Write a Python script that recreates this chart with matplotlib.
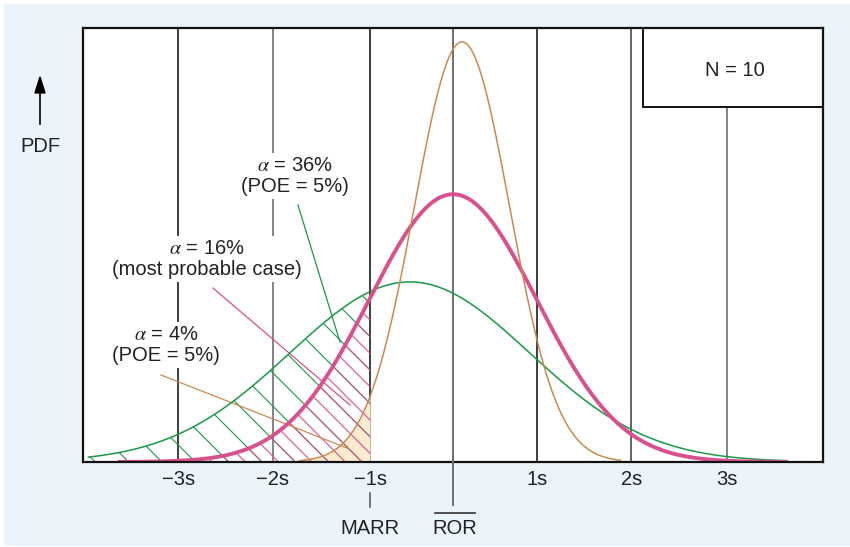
import numpy as np
import matplotlib
matplotlib.use("Agg")
import matplotlib.pyplot as plt
from matplotlib.patches import Rectangle

#=================================
# Data
#=================================
# x axis in "s" units, ROR at 0
s_labels = ["\u22123s", "\u22122s", "\u22121s", "1s", "2s", "3s"]
s_pos = [-3.05, -2.0, -0.92, 0.93, 1.98, 3.04]
s_colors = ["#1e1e1e", "#6e6e6e", "#1e1e1e", "#1e1e1e", "#4a4a4a", "#6e6e6e"]
ror_pos = 0.0
marr_pos = -0.92

# three PDFs: mean, sd, peak height (fraction of axis), drawn range
curve_names = ["alpha 36%", "alpha 16%", "alpha 4%"]
curve_mean = [-0.48, 0.0, 0.10]
curve_sd = [1.33, 0.93, 0.53]
curve_peak = [0.415, 0.617, 0.968]
curve_from = [-4.05, -3.70, -1.70]
curve_to = [3.70, 3.70, 1.86]
curve_colors = ["#1a9a45", "#d9508e", "#c98a50"]
curve_lw = [1.1, 2.8, 1.1]

labels = ["$\\alpha$ = 36%\n(POE = 5%)",
          "$\\alpha$ = 16%\n(most probable case)",
          "$\\alpha$ = 4%\n(POE = 5%)"]

W, H = 850, 547
FS = 14.5
plt.rcParams["font.family"] = ["Liberation Sans", "DejaVu Sans"]
plt.rcParams["mathtext.fontset"] = "stix"
plt.rcParams["hatch.linewidth"] = 0.8

fig = plt.figure(figsize=(W / 100, H / 100), dpi=100, facecolor="white")

# light blue panel behind everything
fig.patches.append(Rectangle((4 / W, 1 / H), 1 - 4 / W, 1 - 5 / H,
                             transform=fig.transFigure, facecolor="#ebf3fb",
                             edgecolor="none", zorder=-10))

def fx(px):
    return px / W

def fy(py):
    return 1 - py / H

ax = fig.add_axes([83 / W, (H - 462) / H, 740 / W, 434 / H])
ax.set_xlim(-4.11, 4.11)
ax.set_ylim(0, 1)
ax.set_facecolor("white")

def ax_pt(px, py):
    # pixel position -> data coords of the axes
    return (px - 453) / 90.0, (462 - py) / 434.0

def pdf(x, i):
    return curve_peak[i] * np.exp(-0.5 * ((x - curve_mean[i]) / curve_sd[i]) ** 2)

# vertical lines
for p, c in zip(s_pos, s_colors):
    top = 1.0
    if p > 2.5:
        top = (462 - 107) / 434.0
    ax.plot([p, p], [0, top], color=c, lw=1.2, zorder=1)
ax.plot([ror_pos, ror_pos], [0, 1], color="#6e6e6e", lw=1.4, zorder=1)

# orange shaded tail
xs = np.linspace(curve_from[2], marr_pos, 200)
ax.fill_between(xs, 0, pdf(xs, 2), color="#fdebd0", lw=0, zorder=2)

# hatched tails
xs = np.linspace(curve_from[0], marr_pos, 300)
ax.fill_between(xs, 0, pdf(xs, 0), facecolor="none", edgecolor=curve_colors[0],
                hatch="\\", lw=0, zorder=3)
xs = np.linspace(curve_from[1], marr_pos, 300)
ax.fill_between(xs, 0, pdf(xs, 1), facecolor="none", edgecolor=curve_colors[1],
                hatch="\\\\", lw=0, zorder=3)

# curves
for i in range(3):
    xs = np.linspace(curve_from[i], curve_to[i], 400)
    ax.plot(xs, pdf(xs, i), color=curve_colors[i], lw=curve_lw[i], zorder=5)

# labels with leader lines
label_xy = [(295, 176), (207, 259), (166, 345)]
leader = [((298, 205), (340, 342)), ((213, 288), (350, 405)), ((161, 375), (347, 448))]
for i in range(3):
    x, y = ax_pt(*label_xy[i])
    ax.text(x, y, labels[i], ha="center", va="center", fontsize=FS,
            linespacing=1.15, color="#222222", zorder=6,
            bbox=dict(facecolor="white", edgecolor="none", pad=2))
    (a, b), (c, d) = leader[i]
    x0, y0 = ax_pt(a, b)
    x1, y1 = ax_pt(c, d)
    ax.plot([x0, x1], [y0, y1], color=curve_colors[i], lw=0.9, zorder=4)

# N = 10 box
ax.add_patch(Rectangle(((643 - 83) / 740, (462 - 107) / 434), (823 - 643) / 740,
                       (107 - 28) / 434, transform=ax.transAxes, facecolor="white",
                       edgecolor="#111111", lw=1.4, zorder=7))
ax.text((735 - 83) / 740, (462 - 70) / 434, "N = 10", transform=ax.transAxes,
        ha="center", va="center", fontsize=FS, color="#222222", zorder=8)

# axes
for sp in ax.spines.values():
    sp.set_linewidth(1.6)
    sp.set_color("#111111")
    sp.set_zorder(9)
ax.set_yticks([])
ax.set_xticks(s_pos, s_labels)
ax.tick_params(axis="x", length=0, pad=6, labelsize=FS, colors="#222222")

# MARR and ROR marks below the axis
fig.add_artist(plt.Line2D([fx(370), fx(370)], [fy(493), fy(507)], color="#555555", lw=1.1))
fig.text(fx(370), fy(528), "MARR", ha="center", va="center", fontsize=FS, color="#222222")
fig.add_artist(plt.Line2D([fx(453), fx(453)], [fy(462), fy(505)], color="#6e6e6e", lw=1.4))
fig.add_artist(plt.Line2D([fx(435), fx(475)], [fy(513), fy(513)], color="#333333", lw=1.2))
fig.text(fx(455), fy(528), "ROR", ha="center", va="center", fontsize=FS, color="#222222")

# PDF arrow
fig.text(fx(40), fy(146), "PDF", ha="center", va="center", fontsize=FS, color="#222222")
ax.annotate("", xy=(fx(40), fy(72)), xytext=(fx(40), fy(127)), xycoords="figure fraction",
            textcoords="figure fraction",
            arrowprops=dict(arrowstyle="-|>,head_length=1.1,head_width=0.35",
                            color="black", lw=1.2))

fig.savefig("out.png", dpi=100, facecolor=fig.get_facecolor())
